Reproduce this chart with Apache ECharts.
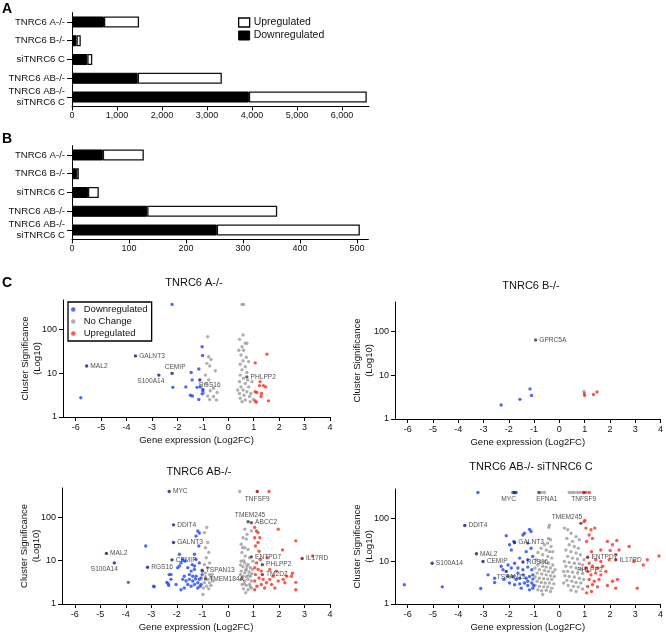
<!DOCTYPE html>
<html><head><meta charset="utf-8">
<script src="https://cdn.jsdelivr.net/npm/echarts@6/dist/echarts.min.js"></script>
<style>html,body{margin:0;padding:0;background:#fff}#c{width:666px;height:635px}</style>
</head><body><div id="c"></div>
<script>
// ---------- Panel A / B bar data ----------
const barCats = ['TNRC6 A-/-','TNRC6 B-/-','siTNRC6 C','TNRC6 AB-/-','TNRC6 AB-/-\nsiTNRC6 C'];
const panelADown = [710, 100, 340, 1460, 3930];
const panelAUp   = [780, 95, 110, 1870, 2620];
const panelATicks = [0,1000,2000,3000,4000,5000,6000];
const panelBDown = [54, 7, 28, 132, 254];
const panelBUp   = [72, 5, 19, 228, 251];
const panelBTicks = [0,100,200,300,400,500];

// ---------- Panel C volcano data: [log2FC, log10(significance)] ----------
const xTicks = [-6,-5,-4,-3,-2,-1,0,1,2,3,4];
const yTicks = [1,10,100];

const aDown = [[-2.21,2.58],[-5.80,0.44],[-2.18,0.68],[-1.03,1.61],[-1.01,1.41],[-1.16,1.10],[-1.46,1.02],[-1.42,0.85],[-1.67,0.69],[-1.23,0.68],[-1.10,0.69],[-1.00,0.60],[-1.03,0.53],[-1.49,0.50],[-1.41,0.48],[-1.16,0.40],[-1.00,0.63]];
const aNc = [[-0.81,1.84],[-0.77,1.38],[-0.68,1.32],[-0.84,1.23],[-0.73,1.17],[-0.51,1.06],[-0.90,0.96],[-0.77,0.85],[-0.86,0.76],[-0.58,0.66],[-0.71,0.60],[-0.44,0.56],[-0.81,0.48],[-0.58,0.47],[-0.73,0.40],[-0.47,0.39],[-0.97,0.55],
 [0.54,2.58],[0.60,2.58],[0.58,1.88],[0.44,1.78],[0.67,1.69],[0.73,1.69],[0.54,1.61],[0.60,1.53],[0.50,1.42],[0.71,1.37],[0.58,1.29],[0.47,1.21],[0.67,1.15],[0.54,1.08],[0.73,1.02],[0.47,0.96],[0.60,0.89],[0.44,0.81],[0.67,0.77],[0.80,0.69],[0.50,0.69],[0.58,0.62],[0.73,0.58],[0.44,0.54],[0.62,0.50],[0.84,0.47],[0.47,0.43],[0.67,0.39],[0.86,0.35],[0.54,0.35],[0.76,0.85],[0.93,0.81],[0.37,0.62],[0.89,0.54],[0.99,0.40],[0.80,1.27],[0.41,1.53]];
const aUp = [[1.52,1.44],[1.06,1.24],[1.25,0.81],[1.23,0.72],[1.38,0.72],[1.47,0.69],[1.06,0.58],[1.12,0.56],[1.31,0.54],[1.29,0.47],[1.06,0.37],[1.10,0.34],[1.58,0.37]];
const aGenes = [['MAL2',-5.57,1.17,'down'],['GALNT3',-3.65,1.40,'down'],['S100A14',-2.73,0.96,'down'],['CEMIP',-2.21,1.00,'down'],['RGS16',-1.12,0.85,'down'],['PHLPP2',0.73,0.92,'nc']];

const bDown = [[-1.16,0.69],[-1.10,0.54],[-1.56,0.45],[-2.30,0.32]];
const bNc = [[0.97,0.63]];
const bUp = [[0.99,0.58],[1.00,0.54],[1.49,0.62],[1.35,0.56]];
const bGenes = [['GPRC5A',-0.94,1.81,'nc']];

const abDown = [[-3.22,1.34],[-3.90,0.50],[-2.91,0.41],[-2.39,0.50],[-2.34,0.47],[-2.30,0.68],[-2.23,0.68],[-1.90,1.15],[-1.97,0.84],[-1.84,0.95],[-1.68,0.99],[-1.18,1.69],[-1.12,1.64],[-1.25,1.57],[-1.14,1.34],[-1.31,1.15],[-1.25,1.03],[-1.40,0.91],[-1.12,0.95],[-1.77,1.03],[-1.90,0.88],[-1.57,0.84],[-1.44,0.76],[-1.31,0.80],[-2.23,0.57],[-2.32,0.43],[-2.89,0.40],[-1.71,0.64],[-1.77,0.57],[-1.64,0.53],[-1.51,0.57],[-1.38,0.53],[-1.27,0.58],[-1.18,0.49],[-1.12,0.57],[-1.05,0.45],[-1.31,0.45],[-1.44,0.41],[-1.57,0.45],[-1.71,0.37],[-1.18,0.37],[-1.05,0.60],[-1.01,0.68],[-1.25,0.64],[-1.38,0.64],[-1.51,0.68],[-2.03,0.45],[-1.84,0.33],[-1.09,0.41],[-1.00,0.76],[-1.31,0.88]];
const abNc = [[-0.83,1.77],[-0.92,1.65],[-0.79,1.42],[-0.88,1.30],[-0.75,1.19],[-0.85,1.07],[-0.72,0.95],[-0.92,0.91],[-0.79,0.84],[-0.88,0.72],[-0.72,0.68],[-0.66,0.60],[-0.79,0.57],[-0.92,0.49],[-0.72,0.49],[-0.59,0.53],[-0.83,0.41],[-0.66,0.43],[-0.96,0.37],[-0.75,0.35],[-0.98,0.22],[-0.88,0.63],[-0.62,0.68],
 [0.46,2.60],[0.66,1.73],[0.59,1.53],[0.72,1.50],[0.52,1.38],[0.66,1.30],[0.79,1.26],[0.55,1.19],[0.68,1.11],[0.85,1.07],[0.52,0.99],[0.66,0.95],[0.79,0.91],[0.59,0.86],[0.72,0.81],[0.88,0.84],[0.52,0.76],[0.66,0.72],[0.83,0.74],[0.59,0.64],[0.72,0.63],[0.88,0.64],[0.52,0.57],[0.66,0.53],[0.79,0.57],[0.92,0.53],[0.56,0.45],[0.72,0.43],[0.85,0.45],[0.61,0.35],[0.79,0.33],[0.92,0.37],[0.70,0.26],[0.49,0.68],[0.96,0.80],[0.75,1.61],[0.92,1.69],[0.98,0.99],[0.62,1.00],[0.75,0.88],[0.55,0.60],[0.80,0.66],[0.64,0.47],[0.88,0.40],[0.50,0.90],[0.94,0.70],[0.70,0.78],[0.58,1.30]];
const abUp = [[1.61,2.60],[1.05,1.77],[1.12,1.69],[1.18,1.65],[1.05,1.53],[1.18,1.42],[1.08,1.34],[1.22,1.22],[2.66,1.46],[2.14,1.25],[1.27,1.03],[1.12,0.95],[1.05,0.84],[1.18,0.80],[1.31,0.76],[1.08,0.68],[1.22,0.60],[1.38,0.57],[1.05,0.53],[1.14,0.41],[1.31,0.45],[1.51,0.49],[1.64,0.57],[1.77,0.64],[1.90,0.76],[1.97,0.53],[2.17,0.57],[2.23,0.49],[2.49,0.64],[2.66,0.50],[2.66,0.33],[3.32,1.11],[1.05,0.33],[1.44,0.37],[1.71,0.45],[1.84,0.37],[2.30,0.64],[1.25,1.53],[1.54,1.07],[1.64,0.80],[1.97,1.73],[2.53,0.71]];
const abGenes = [['MYC',-2.30,2.60,'down'],['DDIT4',-2.13,1.83,'down'],['GALNT3',-2.13,1.42,'down'],['CEMIP',-2.19,1.02,'down'],['RGS16',-3.15,0.85,'down'],['MAL2',-4.76,1.17,'down'],['S100A14',-4.45,0.95,'down'],['TSPAN13',-1.01,0.78,'nc'],['TMEM184A',-0.88,0.58,'nc'],['TNFSF9',1.15,2.60,'up'],['TMEM245',0.79,1.90,'nc'],['ABCC2',0.92,1.88,'nc'],['ENTPD7',0.92,1.09,'nc'],['PHLPP2',1.35,0.91,'up'],['TM2D2',1.35,0.68,'up'],['IL17RD',2.91,1.05,'up']];

const abcDown = [[-3.22,2.60],[-1.84,2.60],[-1.71,2.60],[-6.13,0.45],[-4.63,0.40],[-3.11,0.36],[-2.82,0.68],[-2.56,0.50],[-2.10,1.59],[-1.97,1.38],[-1.90,1.26],[-1.80,1.46],[-1.44,1.61],[-1.38,1.65],[-1.18,1.74],[-1.12,1.69],[-1.25,1.42],[-1.12,1.30],[-1.31,1.22],[-1.05,1.11],[-1.25,1.03],[-1.57,1.07],[-1.77,0.95],[-1.90,0.84],[-1.64,0.84],[-1.44,0.80],[-1.25,0.86],[-1.09,0.80],[-2.03,0.91],[-2.30,0.88],[-2.23,0.80],[-2.56,0.60],[-2.19,0.57],[-2.03,0.64],[-1.84,0.64],[-1.71,0.57],[-1.57,0.60],[-1.44,0.68],[-1.31,0.60],[-1.18,0.64],[-1.05,0.68],[-1.77,0.45],[-1.57,0.47],[-1.38,0.49],[-1.25,0.43],[-1.09,0.49],[-1.51,0.37],[-1.18,0.33],[-1.05,0.37],[-1.97,0.49],[-1.64,0.72],[-1.25,0.53],[-1.05,0.58],[-1.02,0.43]];
const abcNc = [[-0.72,2.60],[-0.59,2.60],[-0.42,1.79],[-0.39,1.84],[-0.35,1.50],[-0.46,1.42],[-0.33,1.34],[-0.59,1.38],[-0.72,1.30],[-0.52,1.26],[-0.39,1.22],[-0.85,1.20],[-0.66,1.15],[-0.46,1.11],[-0.30,1.07],[-0.92,1.03],[-0.75,0.99],[-0.59,0.99],[-0.43,0.95],[-0.26,0.91],[-0.85,0.91],[-0.66,0.88],[-0.52,0.86],[-0.35,0.84],[-0.96,0.84],[-0.79,0.80],[-0.59,0.78],[-0.43,0.76],[-0.26,0.74],[-0.88,0.72],[-0.70,0.70],[-0.52,0.68],[-0.35,0.66],[-0.96,0.63],[-0.79,0.60],[-0.62,0.59],[-0.46,0.58],[-0.30,0.57],[-0.88,0.53],[-0.72,0.50],[-0.56,0.49],[-0.39,0.49],[-0.22,0.47],[-0.96,0.43],[-0.79,0.41],[-0.62,0.40],[-0.46,0.40],[-0.30,0.37],[-0.85,0.33],[-0.70,0.31],[-0.52,0.32],[-0.35,0.29],[-0.66,0.22],[-0.20,0.64],[-0.17,0.80],[-0.26,1.22],[-0.43,1.53],
 [0.39,2.60],[0.49,2.60],[0.59,2.60],[0.72,2.60],[0.83,2.60],[0.20,1.77],[0.33,1.73],[0.46,1.65],[0.30,1.53],[0.52,1.46],[0.66,1.57],[0.39,1.38],[0.59,1.34],[0.75,1.30],[0.26,1.26],[0.46,1.22],[0.66,1.19],[0.83,1.15],[0.33,1.11],[0.52,1.07],[0.72,1.05],[0.20,0.99],[0.39,0.97],[0.59,0.95],[0.79,0.94],[0.92,0.91],[0.26,0.88],[0.46,0.86],[0.66,0.84],[0.85,0.81],[0.33,0.76],[0.52,0.74],[0.72,0.72],[0.92,0.71],[0.22,0.66],[0.39,0.64],[0.59,0.63],[0.79,0.60],[0.30,0.55],[0.49,0.53],[0.66,0.50],[0.85,0.49],[0.35,0.43],[0.56,0.41],[0.75,0.40],[0.46,0.32],[0.66,0.29],[0.92,0.35],[0.96,0.57],[0.98,1.03],[0.79,1.50],[0.17,0.76],[0.17,0.49]];
const abcUp = [[1.05,2.60],[1.18,2.60],[0.98,1.92],[1.01,1.95],[1.05,1.77],[1.25,1.73],[1.40,1.77],[1.18,1.61],[1.31,1.53],[1.08,1.46],[1.90,1.46],[2.10,1.38],[1.64,1.26],[1.27,1.22],[2.23,1.15],[1.44,1.03],[1.64,0.99],[1.97,1.03],[3.48,1.03],[3.94,1.12],[2.95,0.99],[1.18,0.95],[1.31,0.88],[1.51,0.84],[1.71,0.88],[1.12,0.76],[1.25,0.68],[1.44,0.72],[1.64,0.68],[1.84,0.76],[1.18,0.57],[1.38,0.53],[1.57,0.57],[1.12,0.41],[1.31,0.45],[1.51,0.40],[1.90,0.43],[2.23,0.37],[3.08,0.37],[1.08,0.26],[1.27,0.29],[2.30,0.57],[2.10,0.53],[2.76,1.34],[3.32,0.91],[2.27,1.48],[2.01,1.25],[2.36,1.26]];
const abcGenes = [['DDIT4',-3.74,1.83,'down'],['MAL2',-3.28,1.17,'down'],['S100A14',-5.03,0.95,'down'],['CEMIP',-3.02,0.99,'down'],['MYC',-1.77,2.60,'down'],['GALNT3',-1.77,1.43,'down'],['RGS16',-1.44,0.98,'down'],['TSPAN13',-2.10,0.76,'down'],['EFNA1',-0.81,2.60,'nc'],['TNFSF9',0.96,2.60,'up'],['TMEM245',0.85,1.88,'nc'],['ENTPD7',1.12,1.09,'up'],['IL17RD',2.23,1.03,'up'],['PHLPP2',1.05,0.84,'up']];

// ---------- styling ----------
const FONT = "'Liberation Sans', Arial, Helvetica, sans-serif";
const C_DOWN = '#2146f2', C_NC = '#9b9b9b', C_UP = '#f4321f';
const C_LAB = {down:'#16196a', nc:'#3c3c3c', up:'#7a1212'};
const labelPlace = {
  A:{S100A14:['bottom',[-8,-1]], CEMIP:['top',[3,1]], RGS16:['bottom',[10,-2]]},
  B:{},
  AB:{S100A14:['bottom',[-10,-1]], TNFSF9:['bottom',[0,0]], TMEM245:['top',[2,1]]},
  ABC:{MYC:['bottom',[-6,-1]], EFNA1:['bottom',[8,-1]], TNFSF9:['bottom',[0,-1]], TMEM245:['top',[-14,1]], TSPAN13:['bottom',[5,-1]], PHLPP2:['bottom',[4,-5]]}
};
const panels = [
  {key:'A', grid:{left:63, top:300, width:267, height:117}, title:'TNRC6 A-/-', tpos:[194,283], down:aDown, nc:aNc, up:aUp, genes:aGenes, legend:true},
  {key:'B', grid:{left:395, top:302, width:268, height:117}, title:'TNRC6 B-/-', tpos:[531,286], down:bDown, nc:bNc, up:bUp, genes:bGenes},
  {key:'AB', grid:{left:62, top:488, width:268, height:116}, title:'TNRC6 AB-/-', tpos:[199,472], down:abDown, nc:abNc, up:abUp, genes:abGenes},
  {key:'ABC', grid:{left:395, top:489, width:268, height:115}, title:'TNRC6 AB-/- siTNRC6 C', tpos:[531,467], down:abcDown, nc:abcNc, up:abcUp, genes:abcGenes}
];
const toPts = arr => arr.map(p => [p[0], Math.pow(10, p[1])]);
const fmtK = v => v.toLocaleString('en-US');

const grids = [
  {left:72, top:12.6, width:297, height:93.8},
  {left:72, top:145.6, width:296.4, height:93.8}
];
const xAxes = [], yAxes = [], series = [];
const axisLine = {show:true, onZero:false, lineStyle:{color:'#000', width:1}};

// bar panels
[[panelADown, panelAUp, 6600, panelATicks],[panelBDown, panelBUp, 520, panelBTicks]].forEach((cfg, i) => {
  xAxes.push({gridIndex:i, type:'value', min:0, max:cfg[2], axisLine,
    axisTick:{show:true, customValues:cfg[3], length:4, lineStyle:{color:'#000'}},
    axisLabel:{customValues:cfg[3], formatter:fmtK, fontSize:9, margin:5, color:'#111', fontFamily:FONT},
    splitLine:{show:false}});
  yAxes.push({gridIndex:i, type:'category', data:barCats, inverse:true, axisLine,
    axisTick:{show:true, alignWithLabel:true, length:5, lineStyle:{color:'#000'}},
    axisLabel:{fontSize:9.6, margin:7, color:'#111', fontFamily:FONT, lineHeight:11}});
  series.push({type:'bar', name:'Downregulated ', xAxisIndex:i, yAxisIndex:i, stack:'s'+i, data:cfg[0], barWidth:11,
    itemStyle:{color:'#000', borderColor:'#000', borderWidth:1}, silent:true});
  series.push({type:'bar', name:'Upregulated ', xAxisIndex:i, yAxisIndex:i, stack:'s'+i, data:cfg[1], barWidth:11,
    itemStyle:{color:'#fff', borderColor:'#111', borderWidth:1.3}, silent:true});
});

const graphics = [
  {type:'text', left:2, top:2, style:{text:'A', fontSize:14, fontWeight:'bold', fontFamily:FONT, fill:'#000'}},
  {type:'text', left:2, top:132, style:{text:'B', fontSize:14, fontWeight:'bold', fontFamily:FONT, fill:'#000'}},
  {type:'text', left:2, top:276, style:{text:'C', fontSize:14, fontWeight:'bold', fontFamily:FONT, fill:'#000'}}
];

panels.forEach((p, k) => {
  const gi = k + 2;
  grids.push(p.grid);
  xAxes.push({gridIndex:gi, type:'value', min:-6.5, max:4, axisLine,
    axisTick:{show:true, customValues:xTicks, length:4, lineStyle:{color:'#000'}},
    axisLabel:{customValues:xTicks, fontSize:9, margin:6, color:'#111', fontFamily:FONT},
    splitLine:{show:false},
    name:'Gene expression (Log2FC)', nameLocation:'middle', nameGap:18, nameMoveOverlap:false,
    nameTextStyle:{fontSize:9.5, color:'#111', fontFamily:FONT}});
  yAxes.push({gridIndex:gi, type:'log', logBase:10, min:1, max:480, axisLine,
    axisTick:{show:true, customValues:yTicks, length:4, lineStyle:{color:'#000'}},
    axisLabel:{customValues:yTicks, fontSize:9, margin:6, color:'#111', fontFamily:FONT},
    splitLine:{show:false}, minorTick:{show:false},
    name:'Cluster Significance\n(Log10)', nameLocation:'middle', nameGap:20, nameRotate:90, nameMoveOverlap:false,
    nameTextStyle:{fontSize:9.5, color:'#111', fontFamily:FONT, lineHeight:12}});
  const nm = s => p.legend ? s : s + ' (' + p.key + ')';
  const base = {type:'scatter', xAxisIndex:gi, yAxisIndex:gi, symbolSize:3.4, silent:true};
  series.push(Object.assign({}, base, {name:nm('No Change'), data:toPts(p.nc), itemStyle:{color:C_NC}}));
  series.push(Object.assign({}, base, {name:nm('Downregulated'), data:toPts(p.down), itemStyle:{color:C_DOWN}}));
  series.push(Object.assign({}, base, {name:nm('Upregulated'), data:toPts(p.up), itemStyle:{color:C_UP}}));
  const place = labelPlace[p.key];
  series.push(Object.assign({}, base, {name:'genes ' + p.key,
    data:p.genes.map(g => {
      const pl = place[g[0]] || ['right',[0,0]];
      return {name:g[0], value:[g[1], Math.pow(10, g[2])], itemStyle:{color:C_LAB[g[3]]},
        label:{position:pl[0], offset:pl[1]}};
    }),
    label:{show:true, formatter:'{b}', fontSize:6.6, color:'#222', fontFamily:FONT, distance:2}}));
  graphics.push({type:'text', x:p.tpos[0], y:p.tpos[1],
    style:{text:p.title, fontSize:11, fontFamily:FONT, fill:'#111', align:'center', verticalAlign:'middle'}});
});

const chart = echarts.init(document.getElementById('c'), null, {renderer:'canvas'});
chart.setOption({
  animation:false,
  backgroundColor:'#fff',
  grid:grids, xAxis:xAxes, yAxis:yAxes, series,
  legend:[
    {data:[{name:'Upregulated ', icon:'rect', itemStyle:{color:'#fff', borderColor:'#000', borderWidth:1.3}},
           {name:'Downregulated ', icon:'rect', itemStyle:{color:'#000', borderColor:'#000', borderWidth:1}}],
     orient:'vertical', left:236, top:15, itemWidth:11, itemHeight:9, itemGap:2, padding:2,
     textStyle:{fontSize:10.5, color:'#111', fontFamily:FONT, padding:[0,0,0,-1]}, selectedMode:false},
    {data:['Downregulated','No Change','Upregulated'], orient:'vertical', left:68, top:302,
     icon:'circle', itemWidth:11, itemHeight:4.5, itemGap:1, padding:[2,4,2,3],
     borderColor:'#000', borderWidth:1.3, borderRadius:0,
     textStyle:{fontSize:9.5, color:'#111', fontFamily:FONT, lineHeight:11}, selectedMode:false}
  ],
  graphic:graphics
});
</script></body></html>
